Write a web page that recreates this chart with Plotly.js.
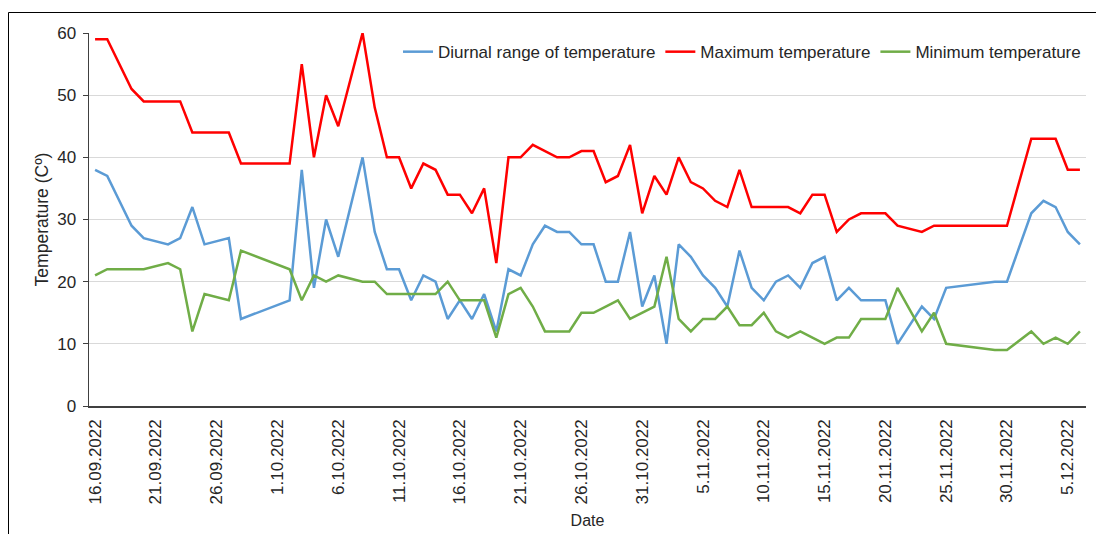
<!DOCTYPE html>
<html>
<head>
<meta charset="utf-8">
<script src="https://cdn.plot.ly/plotly-3.0.1.min.js"></script>
<style>
  html, body { margin: 0; padding: 0; background: #ffffff; }
  #chart { width: 1096px; height: 534px; }
</style>
</head>
<body>
<div id="chart"></div>
<script>
// ---- data ----
const dates = [
  '2022-09-16','2022-09-17','2022-09-19','2022-09-20','2022-09-22','2022-09-23','2022-09-24','2022-09-25',
  '2022-09-27','2022-09-28','2022-10-02','2022-10-03','2022-10-04','2022-10-05','2022-10-06','2022-10-08',
  '2022-10-09','2022-10-10','2022-10-11','2022-10-12','2022-10-13','2022-10-14','2022-10-15','2022-10-16',
  '2022-10-17','2022-10-18','2022-10-19','2022-10-20','2022-10-21','2022-10-22','2022-10-23','2022-10-24',
  '2022-10-25','2022-10-26','2022-10-27','2022-10-28','2022-10-29','2022-10-30','2022-10-31','2022-11-01',
  '2022-11-02','2022-11-03','2022-11-04','2022-11-05','2022-11-06','2022-11-07','2022-11-08','2022-11-09',
  '2022-11-10','2022-11-11','2022-11-12','2022-11-13','2022-11-14','2022-11-15','2022-11-16','2022-11-17',
  '2022-11-18','2022-11-19','2022-11-20','2022-11-21','2022-11-23','2022-11-24','2022-11-25','2022-11-29',
  '2022-11-30','2022-12-02','2022-12-03','2022-12-04','2022-12-05','2022-12-06'
];
const maxTemp = [
  59,59,51,49,49,49,44,44,44,39,39,55,40,50,45,60,
  48,40,40,35,39,38,34,34,31,35,23,40,40,42,41,40,
  40,41,41,36,37,42,31,37,34,40,36,35,33,32,38,32,
  32,32,32,31,34,34,28,30,31,31,31,29,28,29,29,29,
  29,43,43,43,38,38
];
const minTemp = [
  21,22,22,22,23,22,12,18,17,25,22,17,21,20,21,20,
  20,18,18,18,18,18,20,17,17,17,11,18,19,16,12,12,
  12,15,15,16,17,14,15,16,24,14,12,14,14,16,13,13,
  15,12,11,12,11,10,11,11,14,14,14,19,12,15,10,9,
  9,12,10,11,10,12
];
const diurnalRange = [
  38,37,29,27,26,27,32,26,27,14,17,38,19,30,24,40,
  28,22,22,17,21,20,14,17,14,18,12,22,21,26,29,28,
  28,26,26,20,20,28,16,21,10,26,24,21,19,16,25,19,
  17,20,21,19,23,24,17,19,17,17,17,10,16,14,19,20,
  20,31,33,32,28,26
];
const seriesNames = ['Diurnal range of temperature', 'Maximum temperature', 'Minimum temperature'];
const seriesColors = ['#5b9bd5', '#ff0000', '#70ad47'];
const yTitle = 'Temperature (Cº)';
const xTitle = 'Date';

// ---- layout geometry ----
const W = 1096, H = 534;
const M = { l: 89, r: 10, t: 33, b: 128 };
const plotW = W - M.l - M.r, plotH = H - M.t - M.b;
const px2x = p => (p - M.l) / plotW;
const px2y = p => (H - M.b - p) / plotH;

const textColor = '#262626';
const fam = 'Liberation Sans, Arial, sans-serif';
const font = { family: fam, size: 17, color: textColor };

const traces = [diurnalRange, maxTemp, minTemp].map((vals, i) => ({
  type: 'scatter',
  mode: 'lines',
  x: dates,
  y: vals,
  name: seriesNames[i],
  line: { color: seriesColors[i], width: 2.5 },
  hoverinfo: 'x+y+name'
}));

const layout = {
  width: W, height: H,
  margin: M,
  paper_bgcolor: '#ffffff',
  plot_bgcolor: '#ffffff',
  font: font,
  showlegend: true,
  legend: {
    orientation: 'h',
    x: 1, xanchor: 'right',
    y: 0.997, yanchor: 'top',
    bgcolor: 'rgba(255,255,255,0)',
    font: { family: fam, size: 17, color: textColor },
    traceorder: 'normal'
  },
  xaxis: {
    type: 'date',
    range: ['2022-09-15 12:00', '2022-12-06 12:00'],
    tick0: '2022-09-16',
    dtick: 5 * 86400000,
    tickformat: '%-d.%m.%Y',
    tickangle: -90,
    ticks: '',
    ticklabelstandoff: 5,
    showgrid: false,
    zeroline: false,
    showline: true,
    linecolor: '#404040',
    linewidth: 1.5,
    tickfont: { family: fam, size: 17, color: textColor },
    title: { text: xTitle, font: { family: fam, size: 16, color: textColor }, standoff: 11 },
    automargin: false
  },
  yaxis: {
    range: [0, 60],
    dtick: 10,
    ticks: 'outside',
    ticklen: 5,
    tickcolor: '#404040',
    ticklabelstandoff: 3,
    showline: true,
    linecolor: '#404040',
    linewidth: 1.5,
    showgrid: true,
    gridcolor: '#d9d9d9',
    gridwidth: 1,
    zeroline: false,
    tickfont: { family: fam, size: 17, color: textColor },
    title: { text: yTitle, font: { family: fam, size: 17.5, color: textColor }, standoff: 4 },
    automargin: false
  },
  shapes: [{
    type: 'rect', xref: 'paper', yref: 'paper',
    x0: px2x(8.5), x1: px2x(1110), y0: px2y(560), y1: px2y(12.5),
    line: { color: '#000000', width: 1 }, fillcolor: 'rgba(0,0,0,0)', layer: 'above'
  }]
};

Plotly.newPlot('chart', traces, layout, { displayModeBar: false, staticPlot: true });
</script>
</body>
</html>
